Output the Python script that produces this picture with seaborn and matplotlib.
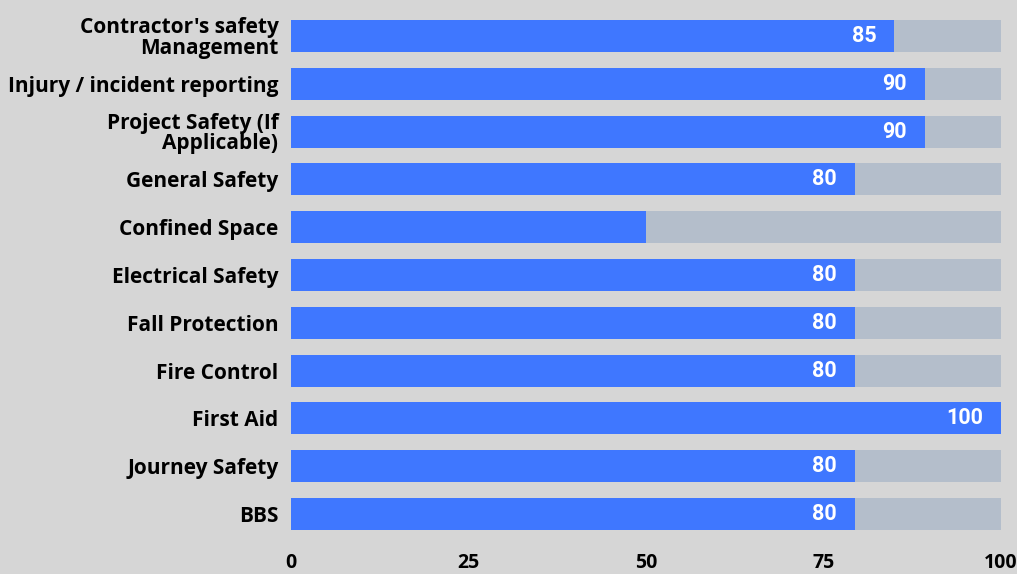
import matplotlib
matplotlib.use("Agg")
import matplotlib.pyplot as plt
import seaborn as sns
import pandas as pd

categories = [
    "Contractor's safety\nManagement",
    "Injury / incident reporting",
    "Project Safety (If\nApplicable)",
    "General Safety",
    "Confined Space",
    "Electrical Safety",
    "Fall Protection",
    "Fire Control",
    "First Aid",
    "Journey Safety",
    "BBS",
]
scores = [85, 89.3, 89.3, 79.4, 50, 79.4, 79.4, 79.4, 100, 79.4, 79.4]
max_scores = [100] * len(categories)
value_labels = ["85", "90", "90", "80", "", "80", "80", "80", "100", "80", "80"]
x_ticks = [0, 25, 50, 75, 100]

df = pd.DataFrame({"category": categories, "score": scores, "max": max_scores})

sns.set_style("white")
plt.rcParams["font.family"] = ["Open Sans", "DejaVu Sans"]

BG = "#d6d6d6"
fig = plt.figure(figsize=(10.17, 5.74), dpi=100, facecolor=BG)
ax = fig.add_axes([291 / 1017, 0.063, 710 / 1017, 0.916])
ax.set_facecolor(BG)

sns.barplot(data=df, y="category", x="max", color="#b4becb", width=0.67,
            saturation=1, linewidth=0, ax=ax, orient="h")
sns.barplot(data=df, y="category", x="score", color="#3f77ff", width=0.67,
            saturation=1, linewidth=0, ax=ax, orient="h")

bars = ax.containers[1]
texts = ax.bar_label(bars, labels=value_labels, padding=-13, label_type="edge",
                     color="white", fontsize=15.5, fontweight="bold",
                     family=["Roboto", "DejaVu Sans"])
for t in texts:
    t.set_horizontalalignment("right")

ax.set_xlim(0, 100)
ax.set_xticks(x_ticks)
ax.set_xticklabels([str(v) for v in x_ticks], fontsize=14, fontweight="bold",
                   color="#000000")
ax.tick_params(axis="x", length=0, pad=11)
ax.tick_params(axis="y", length=0, pad=9)
for lbl in ax.get_yticklabels():
    lbl.set_fontsize(15)
    lbl.set_fontweight("bold")
    lbl.set_color("#000000")
    lbl.set_linespacing(0.95)
ax.set_xlabel("")
ax.set_ylabel("")
for s in ax.spines.values():
    s.set_visible(False)

fig.savefig("out.png", dpi=100, facecolor=BG)
